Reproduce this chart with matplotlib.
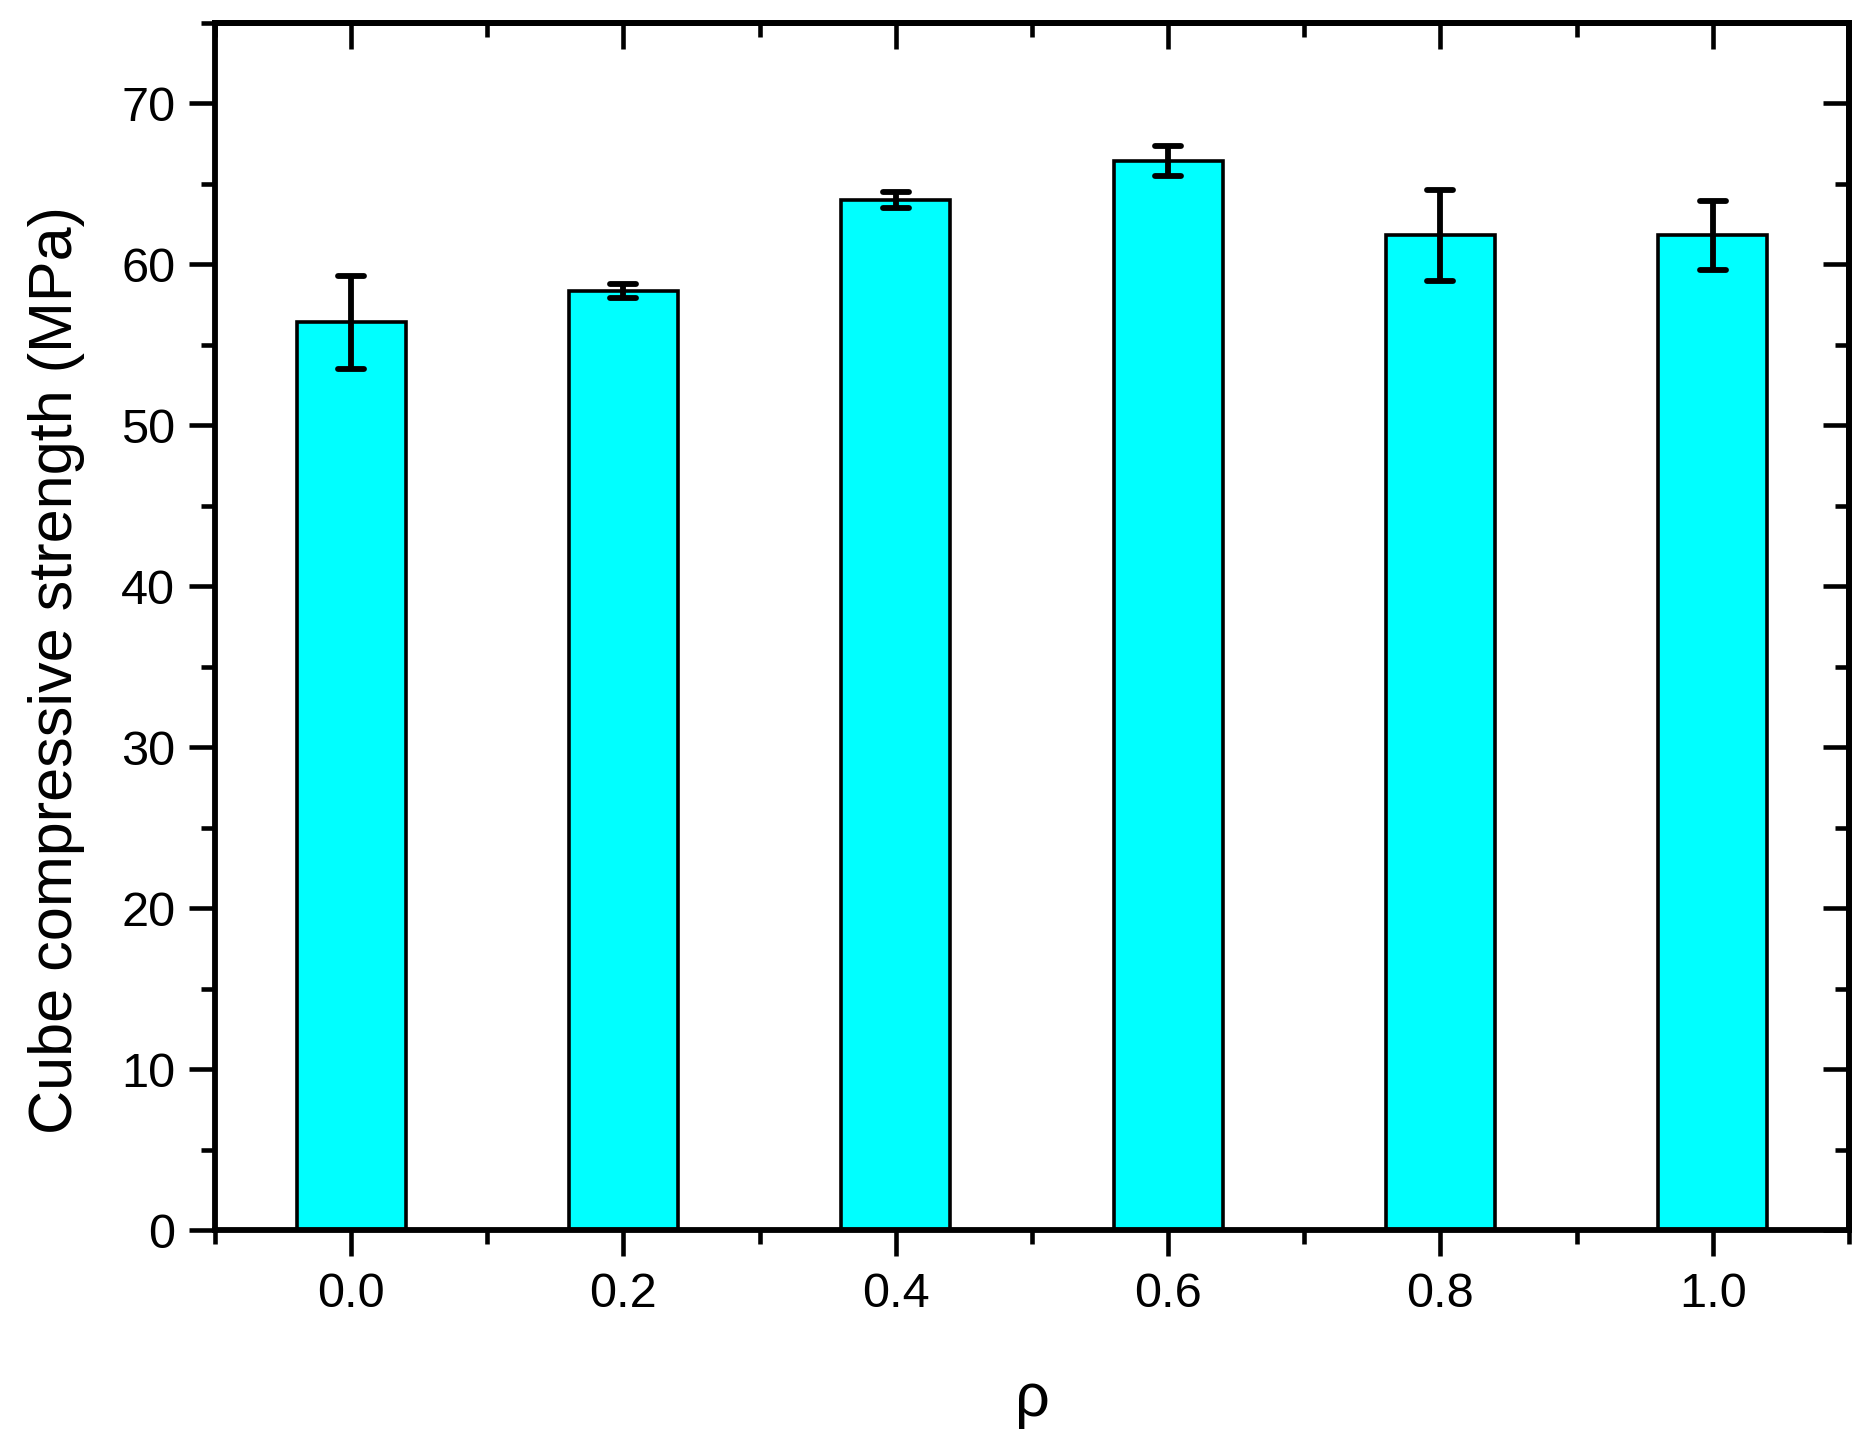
import matplotlib
matplotlib.use("Agg")
import matplotlib.pyplot as plt
from matplotlib.ticker import MultipleLocator, FormatStrFormatter
from matplotlib.markers import MarkerStyle

rho = [0.0, 0.2, 0.4, 0.6, 0.8, 1.0]
strength = [56.4, 58.35, 64.0, 66.45, 61.8, 61.8]
err = [2.9, 0.42, 0.48, 0.93, 2.83, 2.12]

plt.rcParams['font.family'] = ['Liberation Sans', 'DejaVu Sans']

fig = plt.figure(figsize=(18.69, 14.55), dpi=100)
ax = fig.add_axes([0.1150, 0.1546, 0.9893 - 0.1150, 0.9842 - 0.1546])

ax.bar(rho, strength, width=0.08, color='#00FFFF', edgecolor='black',
       linewidth=2.6, zorder=2)
_, caps, bars = ax.errorbar(rho, strength, yerr=err, fmt='none', ecolor='black',
                            elinewidth=4.2, capsize=9.5, capthick=4.2, zorder=3)
for c in caps:
    c.set_marker(MarkerStyle('_', capstyle='round'))
for b in bars:
    b.set_capstyle('butt')

ax.set_xlim(-0.1, 1.1)
ax.set_ylim(0, 75)

ax.xaxis.set_major_locator(MultipleLocator(0.2))
ax.xaxis.set_minor_locator(MultipleLocator(0.1))
ax.xaxis.set_major_formatter(FormatStrFormatter('%.1f'))
ax.yaxis.set_major_locator(MultipleLocator(10))
ax.yaxis.set_minor_locator(MultipleLocator(5))

for s in ax.spines.values():
    s.set_linewidth(4.2)
    s.set_zorder(4)

ax.tick_params(which='both', direction='out', top=False, right=False,
               width=3.3, labelsize=35)
ax.tick_params(which='major', length=18.5)
ax.tick_params(which='minor', length=10)
ax.tick_params(axis='x', pad=12)
ax.tick_params(axis='y', pad=10)

secx = ax.secondary_xaxis('top')
secx.xaxis.set_major_locator(MultipleLocator(0.2))
secx.xaxis.set_minor_locator(MultipleLocator(0.1))
secx.tick_params(which='both', direction='in', labeltop=False, width=3.3)
secx.tick_params(which='major', length=18.5)
secx.tick_params(which='minor', length=10)
secx.spines['top'].set_linewidth(4.2)

secy = ax.secondary_yaxis('right')
secy.yaxis.set_major_locator(MultipleLocator(10))
secy.yaxis.set_minor_locator(MultipleLocator(5))
secy.tick_params(which='both', direction='in', labelright=False, width=3.3)
secy.tick_params(which='major', length=18.5)
secy.tick_params(which='minor', length=10)
secy.spines['right'].set_linewidth(4.2)

ax.set_ylabel('Cube compressive strength (MPa)', fontsize=44)
ax.set_xlabel('ρ', fontsize=44)
ax.yaxis.set_label_coords(-0.0796, 0.464)
ax.xaxis.set_label_coords(0.5, -0.118)

fig.savefig('out.png', dpi=100)
